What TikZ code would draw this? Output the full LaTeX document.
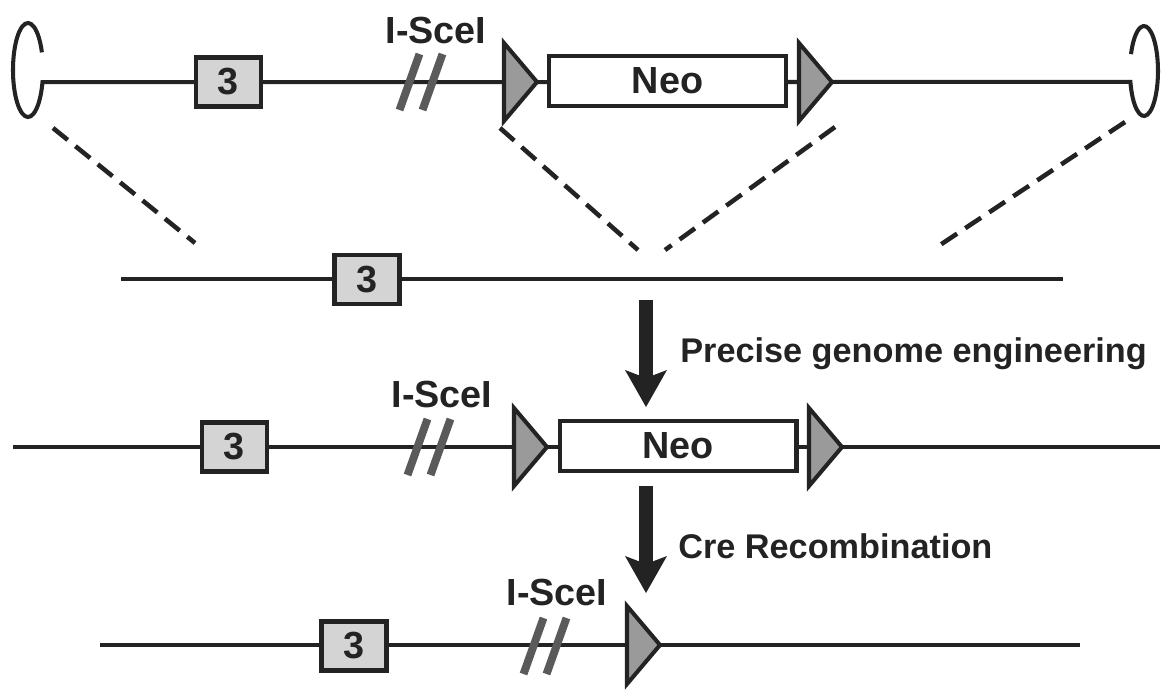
\documentclass[tikz,border=0pt]{standalone}
\usepackage{fontspec}
\setmainfont{Liberation Sans}
\usetikzlibrary{positioning,arrows.meta}
\definecolor{ink}{HTML}{232323}
\definecolor{exon}{HTML}{D4D4D4}
\definecolor{loxp}{HTML}{9A9A9A}
\definecolor{cut}{HTML}{5A5A5A}

\begin{document}
\begin{tikzpicture}
[
x=0.02cm, y=-0.02cm,
dna/.style={draw=ink, line width=2.3pt},
exon-a/.style={rectangle, draw=ink, fill=exon, line width=2.3pt, minimum width=1.3cm, minimum height=0.98cm, inner sep=0pt, text=ink, font=\fontsize{21.5}{24}\selectfont\bfseries},
neo-a/.style={rectangle, draw=ink, fill=white, line width=2.3pt, minimum width=4.74cm, minimum height=1.0cm, inner sep=0pt, text=ink, font=\fontsize{21.5}{24}\selectfont\bfseries},
text-a/.style={text=ink, inner sep=0pt, font=\fontsize{21.5}{24}\selectfont\bfseries},
text-b/.style={text=ink, inner sep=0pt, font=\fontsize{19.5}{22}\selectfont\bfseries},
homol/.style={draw=ink, line width=2.6pt, dash pattern=on 10.8pt off 5.6pt},
stage-arrow/.style={draw=ink, line width=8.5pt, -{Stealth[length=0.74cm, width=0.84cm, inset=0.16cm, line width=0pt]}},
lox/.pic={\draw[draw=ink, fill=loxp, line width=2.3pt] (0,-39) -- (33,0) -- (0,39) -- cycle;},
scei/.pic={\draw[cut, line width=4.5pt] (-21.5,28) -- (-1.5,-28) (1.5,28) -- (21.5,-28);}
]
\useasboundingbox (0,0) rectangle (1170,690);

% targeting vector
\draw[dna] (41.9,52.4) arc[start angle=-22, end angle=-345, x radius=15, y radius=47]
  -- (1130.4,81.9) arc[start angle=166, end angle=-158, x radius=14, y radius=45];
\node (exon-1)  [exon-a]             at (228.5,82) {3};
\pic at (421,82) {scei};
\node (scei-1)  [text-a, anchor=base] at (436,43)   {I-SceI};
\pic at (504,82) {lox};
\pic at (799,82) {lox};
\node (neo-1)   [neo-a]              at (667.5,81) {Neo};

% homology arms
\coordinate (hom-1-a) at (53,128);   \coordinate (hom-1-b) at (195,243);
\coordinate (hom-2-a) at (500,128);  \coordinate (hom-2-b) at (638,250);
\coordinate (hom-3-a) at (835,127);  \coordinate (hom-3-b) at (665,250);
\coordinate (hom-4-a) at (1125,122); \coordinate (hom-4-b) at (937,247);
\draw[homol] (hom-1-a) -- (hom-1-b);
\draw[homol] (hom-2-a) -- (hom-2-b);
\draw[homol] (hom-3-a) -- (hom-3-b);
\draw[homol] (hom-4-a) -- (hom-4-b);

% wild-type locus
\coordinate (wt-l) at (121,279); \coordinate (wt-r) at (1063,279);
\draw[dna] (wt-l) -- (wt-r);
\node (exon-2)  [exon-a]             at (367,279.5) {3};

% step 1
\coordinate (arr-1-a) at (646,300); \coordinate (arr-1-b) at (646,407);
\draw[stage-arrow] (arr-1-a) -- (arr-1-b);
\node (step-1-lb) [text-b, anchor=base west] at (680,362) {Precise genome engineering};

% targeted allele
\coordinate (tg-l) at (13,447); \coordinate (tg-r) at (1160,447);
\draw[dna] (tg-l) -- (tg-r);
\node (exon-3)  [exon-a]             at (234.5,447) {3};
\pic at (429,447) {scei};
\node (scei-3)  [text-a, anchor=base] at (442,407)  {I-SceI};
\pic at (514,447) {lox};
\pic at (809,447) {lox};
\node (neo-3)   [neo-a]              at (678,446)   {Neo};

% step 2
\coordinate (arr-2-a) at (646,486); \coordinate (arr-2-b) at (646,593);
\draw[stage-arrow] (arr-2-a) -- (arr-2-b);
\node (step-2-lb) [text-b, anchor=base west] at (678,558) {Cre Recombination};

% deleted allele
\coordinate (dl-l) at (100,645); \coordinate (dl-r) at (1080,645);
\draw[dna] (dl-l) -- (dl-r);
\node (exon-4)  [exon-a]             at (354,646)   {3};
\pic at (545,646) {scei};
\node (scei-4)  [text-a, anchor=base] at (557,605)  {I-SceI};
\pic at (627,645) {lox};
\end{tikzpicture}
\end{document}
